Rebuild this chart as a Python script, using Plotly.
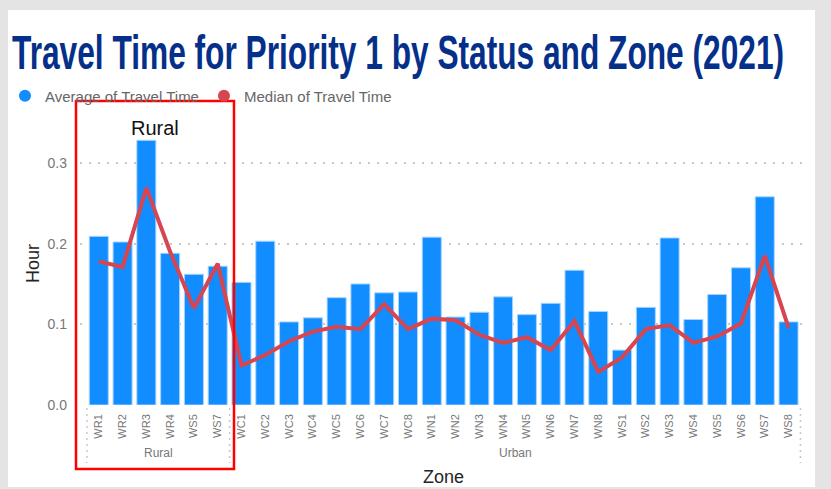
import plotly.graph_objects as go

# ---------------- data ----------------
zones = ["WR1", "WR2", "WR3", "WR4", "WS5", "WS7",
         "WC1", "WC2", "WC3", "WC4", "WC5", "WC6", "WC7", "WC8",
         "WN1", "WN2", "WN3", "WN4", "WN5", "WN6", "WN7", "WN8",
         "WS1", "WS2", "WS3", "WS4", "WS5", "WS6", "WS7", "WS8"]
status = ["Rural"] * 6 + ["Urban"] * 24
avg_travel = [0.209, 0.202, 0.328, 0.188, 0.162, 0.172,
              0.152, 0.203, 0.103, 0.108, 0.133, 0.150, 0.139, 0.140,
              0.208, 0.109, 0.115, 0.134, 0.112, 0.126, 0.167, 0.116,
              0.068, 0.121, 0.207, 0.106, 0.137, 0.170, 0.258, 0.103]
median_travel = [0.178, 0.171, 0.269, 0.190, 0.120, 0.175,
                 0.049, 0.062, 0.079, 0.091, 0.097, 0.094, 0.125, 0.094,
                 0.107, 0.105, 0.087, 0.077, 0.084, 0.068, 0.104, 0.041,
                 0.059, 0.094, 0.099, 0.077, 0.085, 0.101, 0.185, 0.096]
y_ticks = [0.0, 0.1, 0.2, 0.3]
y_tick_text = ["0.0", "0.1", "0.2", "0.3"]
title_text = "Travel Time for Priority 1 by Status and Zone (2021)"

BLUE = "#118DFF"
RED = "#D64550"
GREY = "#777777"
FONT = "Liberation Sans, Arial, sans-serif"

W, H = 831, 489
L, R, T, B = 80, 27, 122, 84
PW, PH = W - L - R, H - T - B


def px(xp):
    return (xp - L) / PW


def py(yp):
    return (H - B - yp) / PH


x_idx = list(range(len(zones)))

fig = go.Figure()
fig.add_trace(go.Bar(
    x=x_idx, y=avg_travel, name="Average of Travel Time",
    marker=dict(color=BLUE, line=dict(color="#a9d5ff", width=1)),
    showlegend=False,
    customdata=list(zip(status, zones)),
    hovertemplate="%{customdata[0]} %{customdata[1]}: %{y}<extra></extra>",
))
fig.add_trace(go.Scatter(
    x=x_idx, y=median_travel, name="Median of Travel Time", mode="lines",
    line=dict(color=RED, width=4), showlegend=False,
))
# legend entries (circle markers as in the original)
fig.add_trace(go.Scatter(x=[None], y=[None], mode="markers", name="Average of Travel Time",
                         marker=dict(symbol="circle", size=12, color=BLUE)))
fig.add_trace(go.Scatter(x=[None], y=[None], mode="markers", name="Median of Travel Time",
                         marker=dict(symbol="circle", size=12, color=RED)))

shapes = [
    # white card
    dict(type="rect", xref="paper", yref="paper", x0=px(8), x1=px(815), y0=py(487), y1=py(10),
         fillcolor="white", line=dict(width=0), layer="below"),
    # red highlight box
    dict(type="rect", xref="paper", yref="paper", x0=px(76), x1=px(234), y0=py(469), y1=py(101),
         fillcolor="rgba(0,0,0,0)", line=dict(color="#ff0000", width=2.5)),
]
# group dividers
groups = []
for i, s in enumerate(status):
    if not groups or groups[-1][0] != s:
        groups.append([s, i, i])
    else:
        groups[-1][2] = i
bounds = [g[1] - 0.5 for g in groups] + [groups[-1][2] + 0.5]
for b in bounds:
    shapes.append(dict(type="line", xref="x", yref="paper", x0=b, x1=b, y0=py(408), y1=py(463),
                       line=dict(color="#c8c8c8", width=1.5, dash="2px,4px")))

annotations = [
    dict(text=title_text, xref="paper", yref="paper",
         x=px(398), y=py(52), xanchor="center", yanchor="middle", showarrow=False,
         font=dict(family="Liberation Sans, Arial, sans-serif", size=48, color="#05308a",
                   weight="bold")),
    dict(text="Rural", xref="paper", yref="paper", x=px(155), y=py(128), showarrow=False,
         xanchor="center", yanchor="middle", font=dict(family=FONT, size=20, color="#111111")),
    dict(text="Zone", xref="paper", yref="paper", x=px(443), y=py(477), showarrow=False,
         xanchor="center", yanchor="middle", font=dict(family=FONT, size=18, color="#252525")),
]
for g in groups:
    annotations.append(dict(text=g[0], xref="x", yref="paper", x=(g[1] + g[2]) / 2, y=py(453),
                            showarrow=False, xanchor="center", yanchor="middle",
                            font=dict(family=FONT, size=12, color=GREY)))

fig.update_layout(
    width=W, height=H,
    margin=dict(l=L, r=R, t=T, b=B, autoexpand=False),
    paper_bgcolor="#e4e4e4",
    plot_bgcolor="rgba(0,0,0,0)",
    bargap=0.2,
    font=dict(family=FONT, color=GREY),
    legend=dict(orientation="h", x=px(5), y=py(96), xanchor="left", yanchor="middle",
                font=dict(family=FONT, size=15, color="#666666"), bgcolor="rgba(0,0,0,0)",
                itemwidth=30, tracegroupgap=0),
    shapes=shapes,
    annotations=annotations,
    xaxis=dict(
        range=[-0.79, 29.65], tickmode="array", tickvals=x_idx, ticktext=zones,
        tickangle=-90, tickfont=dict(size=11, color=GREY), showgrid=False, zeroline=False,
        showline=False, ticks="", ticklabelstandoff=6,
    ),
    yaxis=dict(
        range=[0, PH / 807], tickmode="array", tickvals=y_ticks, ticktext=y_tick_text,
        tickfont=dict(size=14, color=GREY), showgrid=True, gridcolor="#c8c8c8", gridwidth=1.5,
        griddash="2px,7px", zeroline=False, showline=False, ticklabelstandoff=12,
        title=dict(text="Hour", font=dict(size=18, color="#252525"), standoff=3),
    ),
)

post = """
document.documentElement.style.margin='0';
document.body.style.margin='0';
document.body.style.padding='0';
document.body.style.background='#e4e4e4';
document.body.style.overflow='hidden';
var gd = document.getElementById('{plot_id}');
var TITLE_W = 772;
function squeezeTitle(){
  gd.querySelectorAll('.annotation-text').forEach(function(t){
    if (t.textContent.indexOf('Travel Time for Priority') === 0) {
      var w = t.getComputedTextLength();
      if (w > TITLE_W) {
        var s = TITLE_W / w;
        t.style.transformBox = 'fill-box';
        t.style.transformOrigin = 'center';
        t.style.transform = 'scaleX(' + s + ')';
        var r = t.parentNode.querySelector('rect.bg');
        if (r) {
          var rw = parseFloat(r.getAttribute('width'));
          var nw = rw * s;
          r.setAttribute('x', String((rw - nw) / 2));
          r.setAttribute('width', String(nw));
        }
      }
    }
  });
}
squeezeTitle();
setTimeout(squeezeTitle, 0);
if (gd.on) { gd.on('plotly_afterplot', squeezeTitle); }
"""

fig.write_html("out.html", post_script=post, config={"displayModeBar": False})
